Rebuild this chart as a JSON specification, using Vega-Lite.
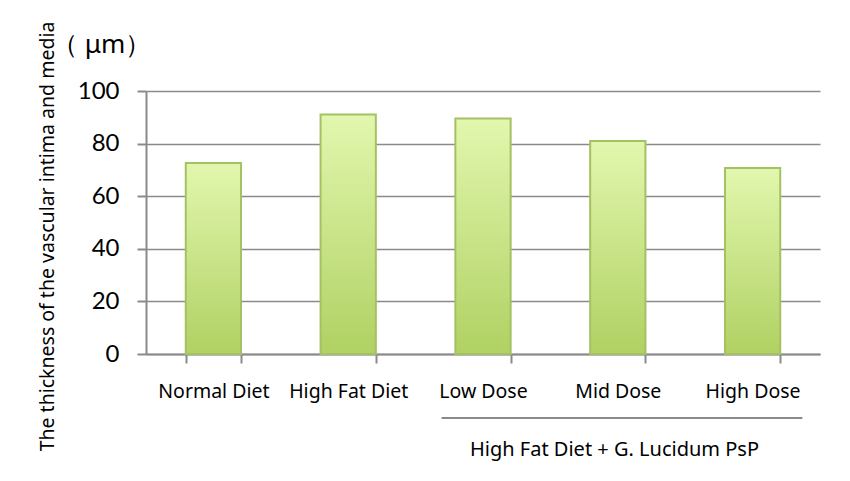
{
  "$schema": "https://vega.github.io/schema/vega-lite/v6.json",
  "width": 674,
  "height": 263,
  "autosize": {"type": "none"},
  "padding": {"left": 146, "top": 91, "right": 30, "bottom": 127},
  "background": "white",
  "title": {
    "text": "（ μm）",
    "anchor": "start",
    "frame": "group",
    "dx": -94,
    "offset": 0,
    "dy": 50,
    "baseline": "middle",
    "fontSize": 26,
    "fontWeight": "normal",
    "font": "Noto Sans",
    "color": "#000000"
  },
  "datasets": {
    "bars": [
      {"group": "Normal Diet", "thickness": 72.6},
      {"group": "High Fat Diet", "thickness": 91.1},
      {"group": "Low Dose", "thickness": 89.5},
      {"group": "Mid Dose", "thickness": 81.0},
      {"group": "High Dose", "thickness": 70.7}
    ],
    "bracket": [
      {"from": "Low Dose", "to": "High Dose"}
    ]
  },
  "layer": [
    {
      "data": {"name": "bars"},
      "mark": {
        "type": "bar",
        "stroke": "#a4c262",
        "strokeWidth": 2,
        "fill": {
          "gradient": "linear",
          "x1": 0, "y1": 0, "x2": 0, "y2": 1,
          "stops": [
            {"offset": 0, "color": "#e2f7ae"},
            {"offset": 1, "color": "#b0d163"}
          ]
        }
      },
      "encoding": {
        "x": {
          "field": "group",
          "type": "nominal",
          "sort": null,
          "scale": {"paddingInner": 0.59, "paddingOuter": 0.295},
          "axis": {
            "title": "High Fat Diet + G. Lucidum PsP",
            "titleX": 468,
            "titleY": 95,
            "titleAlign": "center",
            "titleBaseline": "middle",
            "titleFontSize": 20,
            "titleFontWeight": "normal",
            "titleFont": "Noto Sans",
            "titleColor": "#000000",
            "labelAngle": 0,
            "labelFont": "Noto Sans",
            "labelFontSize": 19.5,
            "labelColor": "#000000",
            "labelPadding": 19,
            "labelBaseline": "top",
            "tickBand": "extent",
            "tickSize": 9,
            "tickColor": "#8a8a8a",
            "tickWidth": 2,
            "domainColor": "#8a8a8a",
            "domainWidth": 2,
            "grid": false
          }
        },
        "y": {
          "field": "thickness",
          "type": "quantitative",
          "scale": {"domain": [0, 100]},
          "axis": {
            "title": "The thickness of the vascular intima and media",
            "titleX": -99,
            "titleY": 145,
            "titleAngle": -90,
            "titleAlign": "center",
            "titleBaseline": "middle",
            "titleFont": "Noto Sans",
            "titleFontSize": 19.5,
            "titleFontWeight": "normal",
            "titleColor": "#000000",
            "values": [0, 20, 40, 60, 80, 100],
            "labelFont": "Lato",
            "labelFontSize": 24,
            "labelColor": "#000000",
            "labelPadding": 18,
            "tickSize": 9,
            "tickColor": "#8a8a8a",
            "tickWidth": 2,
            "domainColor": "#8a8a8a",
            "domainWidth": 2,
            "grid": true,
            "gridColor": "#8a8a8a",
            "gridWidth": 1.5
          }
        }
      }
    },
    {
      "data": {"name": "bracket"},
      "mark": {"type": "rule", "color": "#8a8a8a", "strokeWidth": 2},
      "encoding": {
        "x": {"field": "from", "type": "nominal", "sort": null, "bandPosition": -0.25},
        "x2": {"field": "to", "bandPosition": 1.4},
        "y": {"datum": -24.3}
      }
    }
  ],
  "config": {
    "view": {"stroke": null}
  }
}
